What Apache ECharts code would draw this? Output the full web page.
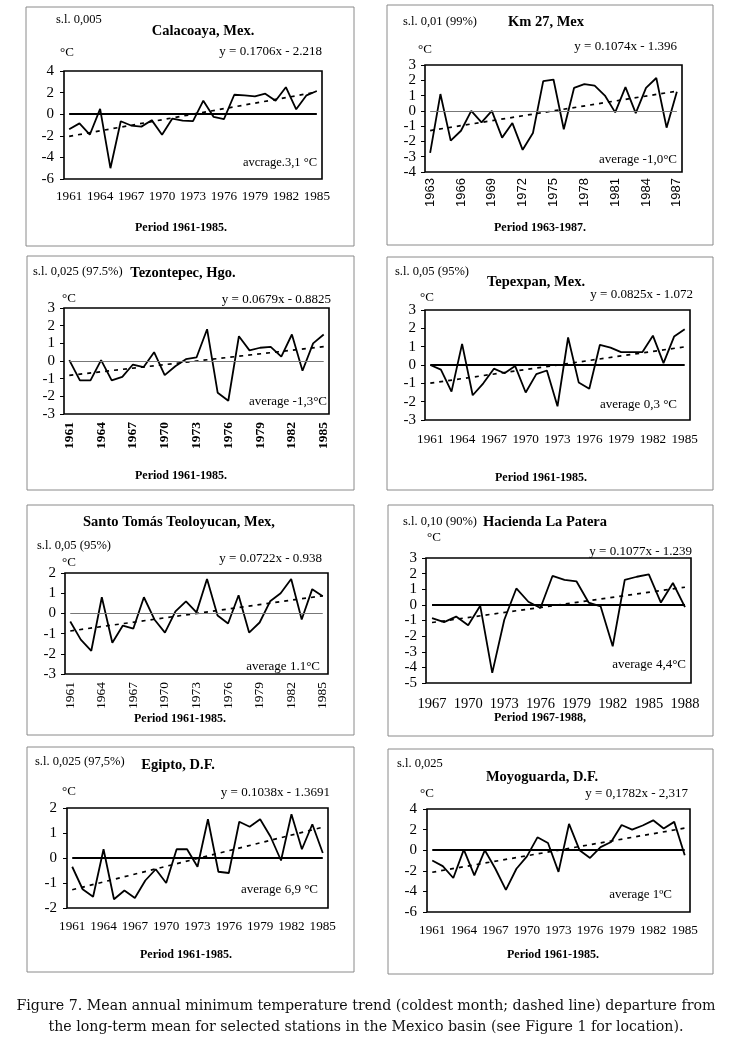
<!DOCTYPE html>
<html>
<head>
<meta charset="utf-8">
<script src="https://cdn.jsdelivr.net/npm/echarts@6/dist/echarts.min.js"></script>
<style>
html,body{margin:0;padding:0;background:#fff;}
#chart{width:733px;height:1049px;}
</style>
</head>
<body>
<div id="chart"></div>
<script>
// ---------- categories ----------
const years6185 = ['1961','1962','1963','1964','1965','1966','1967','1968','1969','1970','1971','1972','1973','1974','1975','1976','1977','1978','1979','1980','1981','1982','1983','1984','1985'];
const years6387 = ['1963','1964','1965','1966','1967','1968','1969','1970','1971','1972','1973','1974','1975','1976','1977','1978','1979','1980','1981','1982','1983','1984','1985','1986','1987'];
const years6788 = ['1967','1968','1969','1970','1971','1972','1973','1974','1975','1976','1977','1978','1979','1980','1981','1982','1983','1984','1985','1986','1987','1988'];

// ---------- series values (departure, °C) ----------
const calacoaya  = [-1.4,-0.85,-1.9,0.5,-5.0,-0.65,-1.05,-1.15,-0.55,-1.9,-0.4,-0.6,-0.65,1.25,-0.25,-0.45,1.8,1.75,1.65,1.9,1.25,2.5,0.45,1.75,2.15];
const km27       = [-2.75,1.1,-1.95,-1.3,0,-0.75,0,-1.75,-0.8,-2.55,-1.45,1.95,2.05,-1.2,1.5,1.75,1.65,1.0,-0.1,1.55,-0.15,1.5,2.15,-1.1,1.25];
const tezontepec = [0.05,-1.1,-1.1,0.05,-1.1,-0.9,-0.2,-0.35,0.5,-0.8,-0.3,0.1,0.2,1.8,-1.8,-2.25,1.4,0.6,0.75,0.8,0.25,1.5,-0.55,1.0,1.5];
const tepexpan   = [0,-0.25,-1.45,1.15,-1.65,-1.0,-0.2,-0.45,-0.05,-1.5,-0.5,-0.3,-2.25,1.5,-0.95,-1.3,1.1,0.95,0.7,0.7,0.7,1.6,0.1,1.55,1.95];
const santoTomas = [-0.4,-1.3,-1.85,0.8,-1.45,-0.6,-0.75,0.8,-0.3,-0.95,0.1,0.6,0.05,1.7,-0.1,-0.5,0.9,-0.95,-0.45,0.6,1.0,1.7,-0.3,1.2,0.85];
const patera     = [-0.85,-1.1,-0.75,-1.3,-0.05,-4.35,-0.95,1.05,0.2,-0.2,1.85,1.6,1.5,0.15,-0.1,-2.65,1.6,1.8,1.95,0.15,1.4,-0.15];
const egipto     = [-0.35,-1.25,-1.55,0.35,-1.65,-1.3,-1.6,-0.9,-0.45,-1.0,0.35,0.35,-0.35,1.55,-0.55,-0.6,1.45,1.25,1.55,0.85,-0.1,1.75,0.35,1.35,0.2];
const moyoguarda = [-1.0,-1.55,-2.7,0.05,-2.45,0,-1.8,-3.85,-1.8,-0.6,1.25,0.7,-2.1,2.55,0,-0.75,0.3,0.8,2.45,2.0,2.4,2.9,2.1,2.75,-0.5];

// ---------- trend line end values (first year, last year) ----------
const trendCalacoaya  = [-2.05, 2.05];
const trendKm27       = [-1.29, 1.29];
const trendTezontepec = [-0.81, 0.81];
const trendTepexpan   = [-0.99, 0.99];
const trendSantoTomas = [-0.87, 0.87];
const trendPatera     = [-1.13, 1.13];
const trendEgipto     = [-1.27, 1.23];
const trendMoyoguarda = [-2.14, 2.14];

// ---------- y-axis ranges [min, max, interval] ----------
const yCalacoaya  = [-6, 4, 2];
const yKm27       = [-4, 3, 1];
const yTezontepec = [-3, 3, 1];
const yTepexpan   = [-3, 3, 1];
const ySantoTomas = [-3, 2, 1];
const yPatera     = [-5, 3, 1];
const yEgipto     = [-2, 2, 1];
const yMoyoguarda = [-6, 4, 2];

// ---------- texts ----------
const titles = ['Calacoaya, Mex.','Km 27, Mex','Tezontepec, Hgo.','Tepexpan, Mex.','Santo Tomás Teoloyucan, Mex,','Hacienda La Patera','Egipto, D.F.','Moyoguarda, D.F.'];
const sigLevels = ['s.l. 0,005','s.l. 0,01 (99%)','s.l. 0,025 (97.5%)','s.l. 0,05 (95%)','s.l. 0,05 (95%)','s.l. 0,10 (90%)','s.l. 0,025 (97,5%)','s.l. 0,025'];
const equations = ['y = 0.1706x - 2.218','y = 0.1074x - 1.396','y = 0.0679x - 0.8825','y = 0.0825x - 1.072','y = 0.0722x - 0.938','y = 0.1077x - 1.239','y = 0.1038x - 1.3691','y = 0,1782x - 2,317'];
const averages = ['avcrage.3,1 °C','average -1,0°C','average -1,3°C','average 0,3 °C','average 1.1°C','average 4,4°C','average 6,9 °C','average 1ºC'];
const periods = ['Period 1961-1985.','Period 1963-1987.','Period 1961-1985.','Period 1961-1985.','Period 1961-1985.','Period 1967-1988,','Period 1961-1985.','Period 1961-1985.'];
const captionLines = [
  'Figure 7. Mean annual minimum temperature trend (coldest month; dashed line) departure from',
  'the long-term mean for selected stations in the Mexico basin (see Figure 1 for location).'
];

// ---------- layout (positions & styles) ----------
const SERIF = '"Liberation Serif", "Times New Roman", serif';
const SANS = '"Liberation Sans", Arial, sans-serif';
const panels = [
  {years: years6185, vals: calacoaya, trend: trendCalacoaya, y: yCalacoaya,
   box:[26,7,328,239], grid:{left:64,top:71,width:258,height:108}, zeroBold:true,
   rot:0, xFont:SERIF, xBold:'normal', xSize:13.2, xMargin:11, yMargin:10,
   sl:[56,20], title:[203,31], deg:[60,53], eq:[322,52], avg:[317,163], per:[181,228], avgSize:12.5},
  {years: years6387, vals: km27, trend: trendKm27, y: yKm27,
   box:[387,5,326,240], grid:{left:425,top:65,width:257,height:107}, zeroBold:false,
   rot:90, xFont:SANS, xBold:'normal', xSize:13, xMargin:6, yMargin:9,
   sl:[403,22], title:[546,22], deg:[418,50], eq:[677,47], avg:[677,160], per:[540,228], avgSize:13},
  {years: years6185, vals: tezontepec, trend: trendTezontepec, y: yTezontepec,
   box:[27,256,327,234], grid:{left:64,top:308,width:265,height:106}, zeroBold:false,
   rot:90, xFont:SERIF, xBold:'bold', xSize:13.5, xMargin:8, yMargin:9,
   sl:[33,272], title:[183,273], deg:[62,299], eq:[331,300], avg:[327,402], per:[181,476], avgSize:13},
  {years: years6185, vals: tepexpan, trend: trendTepexpan, y: yTepexpan,
   box:[387,257,326,233], grid:{left:425,top:310,width:265,height:110}, zeroBold:true,
   rot:0, xFont:SERIF, xBold:'normal', xSize:13.2, xMargin:13, yMargin:9,
   sl:[395,272], title:[536,282], deg:[420,298], eq:[693,295], avg:[677,405], per:[541,478], avgSize:13},
  {years: years6185, vals: santoTomas, trend: trendSantoTomas, y: ySantoTomas,
   box:[27,505,327,230], grid:{left:65,top:573,width:263,height:101}, zeroBold:false,
   rot:90, xFont:SERIF, xBold:'normal', xSize:13.5, xMargin:8, yMargin:9,
   sl:[37,546], title:[179,522], deg:[62,563], eq:[322,559], avg:[320,667], per:[180,719], avgSize:13},
  {years: years6788, vals: patera, trend: trendPatera, y: yPatera,
   box:[388,505,325,231], grid:{left:426,top:558,width:265,height:125}, zeroBold:true,
   rot:0, xFont:SERIF, xBold:'normal', xSize:14.5, xMargin:14, yMargin:9,
   sl:[403,522], title:[545,522], deg:[427,538], eq:[692,552], avg:[686,665], per:[540,718], avgSize:13},
  {years: years6185, vals: egipto, trend: trendEgipto, y: yEgipto,
   box:[27,747,327,225], grid:{left:67,top:808,width:261,height:100}, zeroBold:true,
   rot:0, xFont:SERIF, xBold:'normal', xSize:13.2, xMargin:12, yMargin:10,
   sl:[35,762], title:[178,765], deg:[62,792], eq:[330,793], avg:[318,890], per:[186,955], avgSize:13},
  {years: years6185, vals: moyoguarda, trend: trendMoyoguarda, y: yMoyoguarda,
   box:[388,749,325,225], grid:{left:427,top:809,width:263,height:103}, zeroBold:true,
   rot:0, xFont:SERIF, xBold:'normal', xSize:13.2, xMargin:12, yMargin:10,
   sl:[397,764], title:[542,777], deg:[420,794], eq:[688,794], avg:[672,895], per:[553,955], avgSize:13}
];

const grids = [], xAxes = [], yAxes = [], series = [], graphics = [];

panels.forEach((p, i) => {
  grids.push(Object.assign({show:true, borderColor:'#000', borderWidth:1.6, backgroundColor:'transparent'}, p.grid));
  xAxes.push({
    type:'category', gridIndex:i, data:p.years, boundaryGap:true,
    axisLine:{show:false}, axisTick:{show:false},
    axisLabel:{interval:2, rotate:p.rot, margin:p.xMargin, color:'#000',
      fontFamily:p.xFont, fontWeight:p.xBold, fontSize:p.xSize}
  });
  yAxes.push({
    type:'value', gridIndex:i, min:p.y[0], max:p.y[1], interval:p.y[2],
    splitLine:{show:false}, axisLine:{show:false},
    axisTick:{show:true, length:4, lineStyle:{color:'#000'}},
    axisLabel:{color:'#000', fontFamily:SERIF, fontSize:15, margin:p.yMargin}
  });
  const n = p.years.length;
  series.push({
    type:'line', xAxisIndex:i, yAxisIndex:i, data:p.vals, symbol:'none',
    lineStyle:{color:'#000', width:1.8}, z:3,
    markLine:{silent:true, symbol:['none','none'], label:{show:false},
      lineStyle:{color:p.zeroBold ? '#000' : '#777', width:p.zeroBold ? 1.8 : 1, type:'solid'},
      data:[[{coord:[p.years[0], 0]}, {coord:[p.years[n-1], 0]}]]}
  });
  series.push({
    type:'line', xAxisIndex:i, yAxisIndex:i, symbol:'none',
    data:[[p.years[0], p.trend[0]], [p.years[n-1], p.trend[1]]],
    lineStyle:{color:'#000', width:1.7, type:[4,5]}, z:2
  });
  graphics.push({type:'rect', shape:{x:p.box[0], y:p.box[1], width:p.box[2], height:p.box[3]},
    style:{fill:'none', stroke:'#8a8a8a', lineWidth:1}, z:0, silent:true});
  const txt = (t, x, y, opts) => graphics.push({type:'text', x:x, y:y, z:10, silent:true,
    style:Object.assign({text:t, fill:'#000', fontFamily:SERIF, fontSize:12.5, align:'left', verticalAlign:'middle'}, opts)});
  txt(sigLevels[i], p.sl[0], p.sl[1], {fontSize:12.5});
  txt(titles[i], p.title[0], p.title[1], {fontSize:14.5, fontWeight:'bold', align:'center'});
  txt('°C', p.deg[0], p.deg[1], {fontSize:13});
  txt(equations[i], p.eq[0], p.eq[1], {fontSize:13, align:'right'});
  txt(averages[i], p.avg[0], p.avg[1], {fontSize:p.avgSize, align:'right'});
  txt(periods[i], p.per[0], p.per[1], {fontSize:12, fontWeight:'bold', align:'center'});
});

captionLines.forEach((line, k) => {
  graphics.push({type:'text', x:366, y:1006 + k*21, silent:true,
    style:{text:line, fill:'#111', fontFamily:'"DejaVu Serif", serif', fontSize:14.2, align:'center', verticalAlign:'middle'}});
});

const chart = echarts.init(document.getElementById('chart'), null, {renderer:'canvas'});
chart.setOption({
  backgroundColor:'#fff',
  animation:false,
  grid:grids, xAxis:xAxes, yAxis:yAxes, series:series, graphic:graphics
});
</script>
</body>
</html>
